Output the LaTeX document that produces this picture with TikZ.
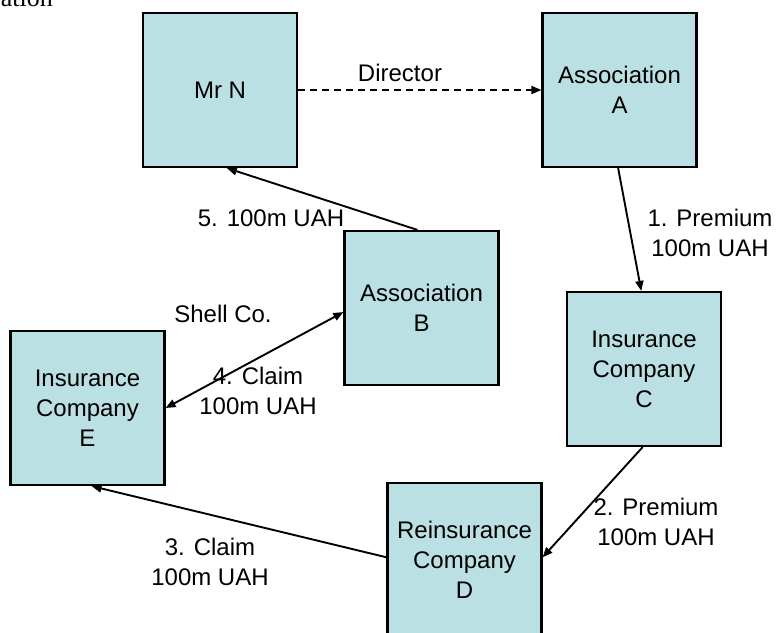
\documentclass[tikz,border=0pt]{standalone}
\usepackage{fontspec}
\setmainfont{Liberation Sans}
\newfontfamily\serifcut{Liberation Serif}
\usetikzlibrary{arrows.meta}
\definecolor{boxfill}{HTML}{BBE0E3}
\tikzset{
  ent/.style={draw=black, line width=2.2pt, fill=boxfill, minimum width=154pt, minimum height=154pt,
    inner sep=0pt, align=center, font=\fontsize{24}{30}\selectfont},
  lbl/.style={inner sep=0pt, align=center, font=\fontsize{24}{30}\selectfont},
  tip/.tip={Triangle[length=10pt,width=8pt]},
  dir/.style={line width=1.9pt, -tip},
  twodir/.style={line width=1.9pt, tip-tip},
}
\begin{document}
\begin{tikzpicture}[x=1pt,y=-1pt]
\useasboundingbox (0,0) rectangle (781,632);
\node[anchor=base east, inner sep=0pt, font=\serifcut\fontsize{26}{30}\selectfont] (cap) at (53,6) {ation};
\node[ent] (mrn) at (220,90) {Mr N};
\node[ent] (assA) at (619.5,90) {Association\\A};
\node[ent] (assB) at (421.5,308) {Association\\B};
\node[ent] (insC) at (644,369) {Insurance\\Company\\C};
\node[ent] (insE) at (87.5,408) {Insurance\\Company\\E};
\node[ent] (reD) at (464.5,560) {Reinsurance\\Company\\D};

\node[lbl] (ldir) at (400,73) {Director};
\node[lbl] (l1) at (710,233) {1. Premium\\100m UAH};
\node[lbl] (l2) at (656,522) {2. Premium\\100m UAH};
\node[lbl] (l3) at (210,562) {3. Claim\\100m UAH};
\node[lbl] (l4) at (258,391) {4. Claim\\100m UAH};
\node[lbl] (l5) at (271,218) {5. 100m UAH};
\node[lbl] (lshell) at (223,314) {Shell Co.};

\draw[dir, dash pattern=on 7pt off 5pt] (mrn.east) -- (assA.west);
\draw[dir] (assA.-91) -- (insC.92);
\draw[dir] (insC.-91) -- (reD.2);
\draw[dir] (reD.178) -- (insE.-87);
\draw[twodir] (insE.east) -- (assB.183);
\draw[dir] (assB.93) -- (mrn.-85);
\end{tikzpicture}
\end{document}
